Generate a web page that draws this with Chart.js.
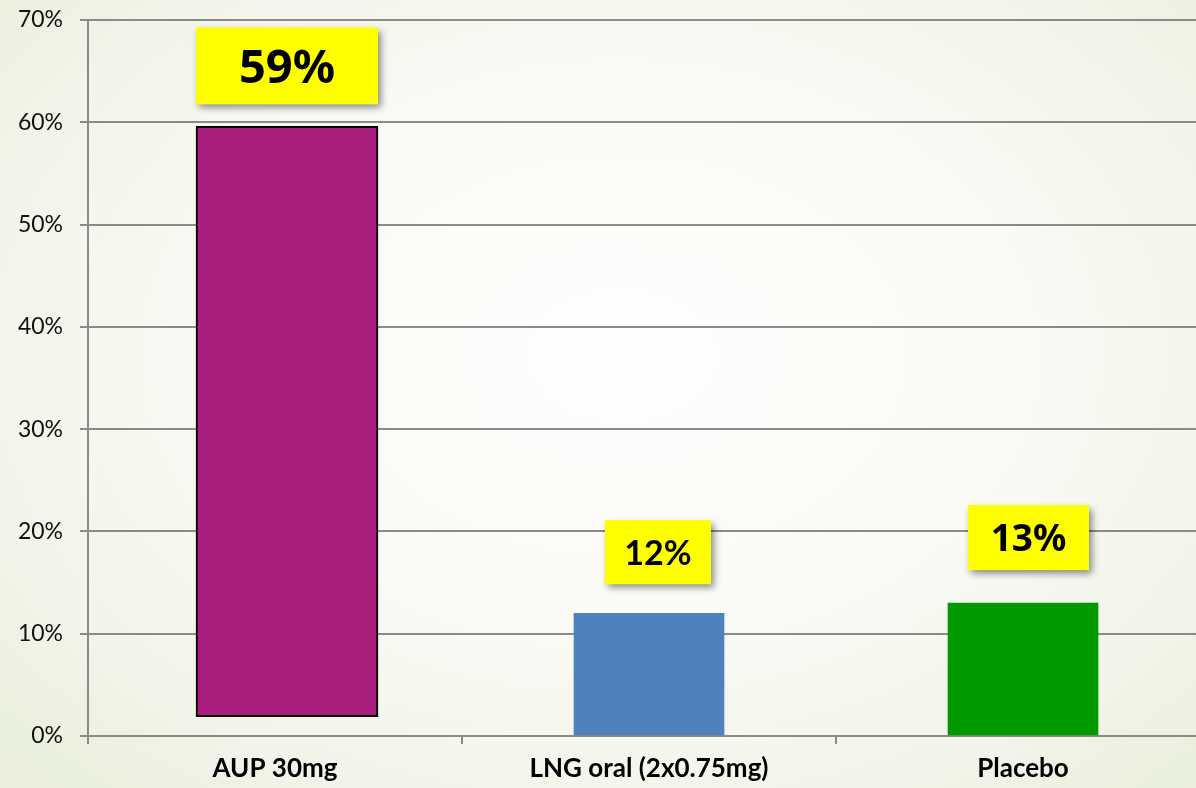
<!DOCTYPE html>
<html>
<head>
<meta charset="utf-8">
<script src="https://cdn.jsdelivr.net/npm/chart.js@4"></script>
<style>
  html, body { margin: 0; padding: 0; width: 1196px; height: 788px; overflow: hidden; }
  body { background: radial-gradient(ellipse 70% 75% at 52% 45%, #FEFEFD 0%, #FAFBF6 45%, #F1F4E8 80%, #E9EFDC 100%); }
  #wrap { position: absolute; left: 0; top: 0; width: 1214px; height: 788px; }
</style>
</head>
<body>
<div id="wrap"><canvas id="c"></canvas></div>
<script>
// ---- data ----
const categories = ['AUP 30mg', 'LNG oral (2x0.75mg)', 'Placebo'];
const aupRange = [1.9, 59.6];          // AUP bar (floating, starts slightly above 0)
const otherValues = [null, 12, 13];    // LNG, Placebo
const labelValues = [59, 12, 13];      // value boxes
const yTicks = [0, 10, 20, 30, 40, 50, 60, 70];

// ---- styles ----
const barColors = ['#AA1F7E', '#4F81BD', '#009900'];
const boxStyles = [
  { w: 182, h: 77, dx: 0,   gap: 22, font: 'bold 47px "Noto Sans"' },
  { w: 106, h: 64, dx: 9,   gap: 29, font: 'bold 34px Lato' },
  { w: 121, h: 65, dx: 5.5, gap: 33, font: 'bold 37px "Noto Sans"' }
];
const gridColor = '#8A8A8A';
const aupShift = 12 / 374;

const labelPlugin = {
  id: 'valueBoxes',
  afterDatasetsDraw(chart) {
    const ctx = chart.ctx;
    const bars = [
      chart.getDatasetMeta(0).data[0],
      chart.getDatasetMeta(1).data[1],
      chart.getDatasetMeta(1).data[2]
    ];
    bars.forEach((bar, i) => {
      if (!bar) return;
      const s = boxStyles[i];
      const cx = bar.x + s.dx;
      const bottom = bar.y - s.gap;
      const top = bottom - s.h;
      const left = cx - s.w / 2;
      ctx.save();
      ctx.shadowColor = 'rgba(0,0,0,0.45)';
      ctx.shadowBlur = 7;
      ctx.shadowOffsetX = 3;
      ctx.shadowOffsetY = 4;
      ctx.fillStyle = '#FFFF00';
      ctx.fillRect(left, top, s.w, s.h);
      ctx.restore();
      ctx.save();
      ctx.font = s.font;
      ctx.fillStyle = '#000';
      ctx.textAlign = 'center';
      ctx.textBaseline = 'alphabetic';
      const cap = ctx.measureText('0').actualBoundingBoxAscent;
      ctx.fillText(labelValues[i] + '%', cx, top + s.h / 2 + cap / 2);
      ctx.restore();
    });
  }
};

new Chart(document.getElementById('c'), {
  type: 'bar',
  data: {
    labels: categories,
    datasets: [
      {
        label: 'AUP',
        xAxisID: 'xs',
        data: [{ x: 0, y: aupRange }],
        backgroundColor: barColors[0],
        borderColor: '#000',
        borderWidth: 2,
        borderSkipped: false,
        barThickness: 182,
        grouped: false
      },
      {
        label: 'Others',
        xAxisID: 'x',
        data: otherValues,
        backgroundColor: barColors,
        borderWidth: 0,
        barThickness: 150,
        grouped: false
      }
    ]
  },
  options: {
    responsive: true,
    maintainAspectRatio: false,
    animation: false,
    layout: { padding: { top: 20, right: 4, bottom: 0, left: 0 } },
    plugins: { legend: { display: false }, tooltip: { enabled: false } },
    scales: {
      x: {
        type: 'category',
        offset: true,
        grid: { offset: true, drawOnChartArea: false, drawTicks: true, tickLength: 8, color: gridColor, lineWidth: 2 },
        border: { display: true, color: gridColor, width: 2 },
        ticks: { color: '#000', font: { family: 'Lato', size: 26, weight: 'bold' }, padding: 9, maxRotation: 0 },
        afterFit(scale) { scale.height = 52; }
      },
      xs: {
        type: 'linear',
        display: false,
        offset: false,
        min: -0.5 - aupShift,
        max: 2.5 - aupShift
      },
      y: {
        min: 0,
        max: 70,
        afterBuildTicks(scale) { scale.ticks = yTicks.map(v => ({ value: v })); },
        grid: { color: gridColor, lineWidth: 2, tickLength: 8 },
        border: { display: true, color: gridColor, width: 2 },
        ticks: { color: '#111', font: { family: 'Lato', size: 23 }, padding: 17, callback: v => v + '%' },
        afterFit(scale) { scale.width = 88; scale.paddingTop = 0; scale.paddingBottom = 0; }
      }
    }
  },
  plugins: [labelPlugin]
});
</script>
</body>
</html>
